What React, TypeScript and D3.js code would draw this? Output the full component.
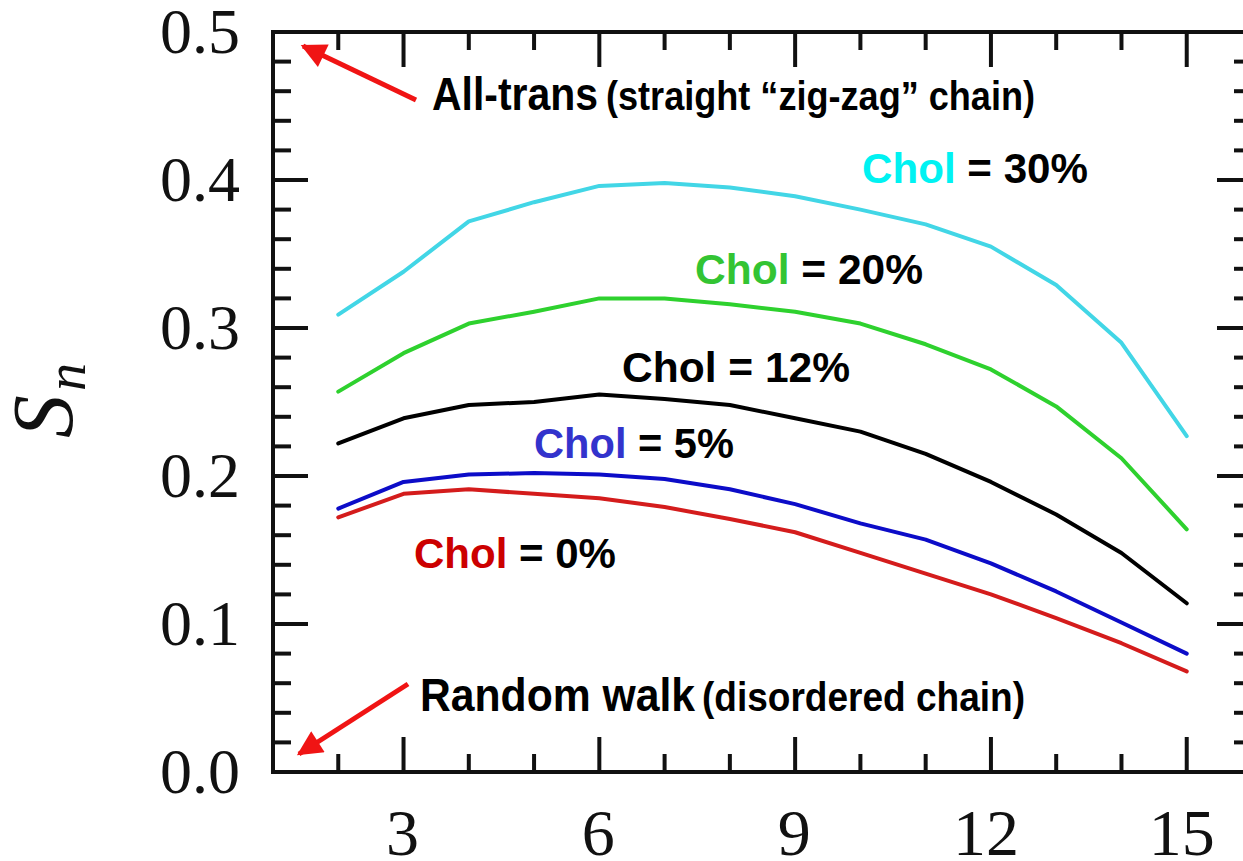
import React from "react";
import * as d3 from "d3";

const positions = [2, 3, 4, 5, 6, 7, 8, 9, 10, 11, 12, 13, 14, 15];
const chol30 = [0.309, 0.338, 0.372, 0.385, 0.396, 0.398, 0.395, 0.389, 0.380, 0.370, 0.355, 0.329, 0.290, 0.227];
const chol20 = [0.257, 0.283, 0.303, 0.311, 0.320, 0.320, 0.316, 0.311, 0.303, 0.289, 0.272, 0.247, 0.212, 0.164];
const chol12 = [0.222, 0.239, 0.248, 0.250, 0.255, 0.252, 0.248, 0.239, 0.230, 0.215, 0.196, 0.174, 0.148, 0.114];
const chol5 = [0.178, 0.196, 0.201, 0.202, 0.201, 0.198, 0.191, 0.181, 0.168, 0.157, 0.141, 0.122, 0.101, 0.080];
const chol0 = [0.172, 0.188, 0.191, 0.188, 0.185, 0.179, 0.171, 0.162, 0.148, 0.134, 0.120, 0.104, 0.087, 0.068];

const seriesNames = ["Chol = 30%", "Chol = 20%", "Chol = 12%", "Chol = 5%", "Chol = 0%"];
const xMajorTicks = [3, 6, 9, 12, 15];
const yMajorTicks = [0.0, 0.1, 0.2, 0.3, 0.4, 0.5];

const W = 1243;
const H = 861;
const left = 273;
const right = 1252;
const top = 32;
const bottom = 772;

export default function App() {
  const x = d3.scaleLinear().domain([1, 16]).range([left, right]);
  const y = d3.scaleLinear().domain([0, 0.5]).range([bottom, top]);
  const line = d3
    .line<number>()
    .x((_, i) => x(positions[i]))
    .y((v) => y(v));

  const series = [
    { vals: chol30, color: "#42d6e6", label: "#00f2f2", lx: 862, ly: 183, len: 226 },
    { vals: chol20, color: "#2ed12e", label: "#33c433", lx: 695, ly: 284, len: 228 },
    { vals: chol12, color: "#000000", label: "#000000", lx: 622, ly: 382, len: 228 },
    { vals: chol5, color: "#0c0cc8", label: "#3333cc", lx: 534, ly: 458, len: 200 },
    { vals: chol0, color: "#d41c1c", label: "#cc0000", lx: 414, ly: 568, len: 202 },
  ];

  const xMinor = d3.range(2, 16).filter((v) => !xMajorTicks.includes(v));
  const yMinor = d3.range(1, 25).map((i) => i * 0.02).filter((v) => Math.abs(v * 10 - Math.round(v * 10)) > 1e-6);
  const majorLen = 35;
  const minorLen = 18;
  const tickW = 4;

  const sans = "'Liberation Sans', Arial, sans-serif";
  const serif = "'Liberation Serif', 'Times New Roman', serif";

  return (
    <svg width={W} height={H} style={{ position: "absolute", left: 0, top: 0, background: "#fff" }}>
      <defs>
        <marker id="ah" viewBox="0 0 10 10" refX="9" refY="5" markerWidth="6.5" markerHeight="5" markerUnits="strokeWidth" orient="auto">
          <path d="M0,0 L10,5 L0,10 z" fill="#f01414" />
        </marker>
      </defs>
      <rect x={0} y={0} width={W} height={H} fill="#fff" />
      {/* frame */}
      <g stroke="#111" strokeWidth={tickW} fill="none">
        <line x1={left} y1={top} x2={right} y2={top} />
        <line x1={left} y1={bottom} x2={right} y2={bottom} />
        <line x1={left} y1={top - 2} x2={left} y2={bottom + 2} />
        <line x1={right} y1={top - 2} x2={right} y2={bottom + 2} />
        {xMajorTicks.map((v) => (
          <g key={"xM" + v}>
            <line x1={x(v)} x2={x(v)} y1={bottom} y2={bottom - majorLen} />
            <line x1={x(v)} x2={x(v)} y1={top} y2={top + majorLen} />
          </g>
        ))}
        {xMinor.map((v) => (
          <g key={"xm" + v}>
            <line x1={x(v)} x2={x(v)} y1={bottom} y2={bottom - minorLen} />
            <line x1={x(v)} x2={x(v)} y1={top} y2={top + minorLen} />
          </g>
        ))}
        {yMajorTicks.slice(1, -1).map((v) => (
          <g key={"yM" + v}>
            <line x1={left} x2={left + majorLen} y1={y(v)} y2={y(v)} />
            <line x1={right} x2={right - majorLen} y1={y(v)} y2={y(v)} />
          </g>
        ))}
        {yMinor.map((v) => (
          <g key={"ym" + v}>
            <line x1={left} x2={left + minorLen} y1={y(v)} y2={y(v)} />
            <line x1={right} x2={right - minorLen} y1={y(v)} y2={y(v)} />
          </g>
        ))}
      </g>
      {/* tick labels */}
      <g fontFamily={serif} fill="#111">
        {yMajorTicks.map((v) => (
          <text key={"yl" + v} x={240} y={y(v) + 21} fontSize={64} textAnchor="end">
            {v.toFixed(1)}
          </text>
        ))}
        {xMajorTicks.map((v) => (
          <text key={"xl" + v} x={x(v) - (v >= 10 ? 5 : 1)} y={855} fontSize={66} textAnchor="middle">
            {String(v)}
          </text>
        ))}
      </g>
      {/* y label */}
      <text transform="translate(72,438) rotate(-90)" fontFamily={serif} fontStyle="italic" fill="#111">
        <tspan fontSize={86}>S</tspan>
        <tspan x={47} y={13} fontSize={56}>n</tspan>
      </text>
      {/* lines */}
      {series.map((s, i) => (
        <path key={"s" + i} d={line(s.vals) || ""} fill="none" stroke={s.color} strokeWidth={4} strokeLinejoin="round" strokeLinecap="round" />
      ))}
      {/* series labels */}
      {series.map((s, i) => {
        const parts = seriesNames[i].split(" = ");
        return (
          <text key={"lab" + i} x={s.lx} y={s.ly} fontFamily={sans} fontWeight="bold" fontSize={42} textLength={s.len} lengthAdjust="spacingAndGlyphs">
            <tspan fill={s.label}>{parts[0]}</tspan>
            <tspan fill="#000">{" = " + parts[1]}</tspan>
          </text>
        );
      })}
      {/* annotations */}
      <line x1={416} y1={100} x2={303} y2={46} stroke="#f01414" strokeWidth={5} markerEnd="url(#ah)" />
      <line x1={408} y1={684} x2={299} y2={754} stroke="#f01414" strokeWidth={5} markerEnd="url(#ah)" />
      <text x={432} y={110} fontFamily={sans} fontWeight="bold" fill="#000">
        <tspan fontSize={47} textLength={166} lengthAdjust="spacingAndGlyphs">All-trans</tspan>
        <tspan x={606} fontSize={40} textLength={429} lengthAdjust="spacingAndGlyphs">(straight “zig-zag” chain)</tspan>
      </text>
      <text x={420} y={711} fontFamily={sans} fontWeight="bold" fill="#000">
        <tspan fontSize={47} textLength={275} lengthAdjust="spacingAndGlyphs">Random walk</tspan>
        <tspan x={702} fontSize={40} textLength={323} lengthAdjust="spacingAndGlyphs">(disordered chain)</tspan>
      </text>
    </svg>
  );
}
